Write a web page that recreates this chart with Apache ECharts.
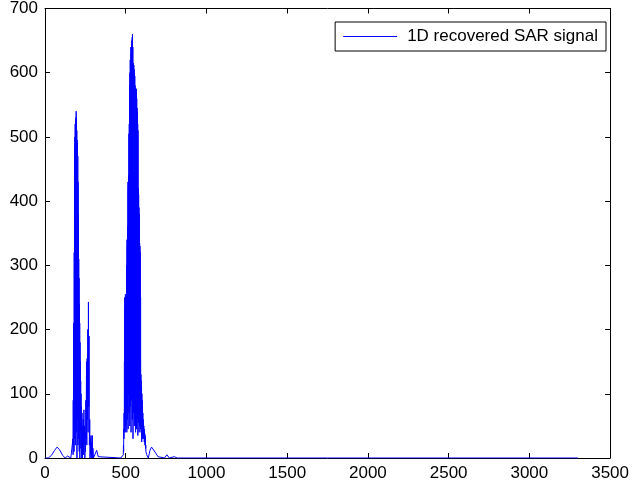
<!DOCTYPE html>
<html>
<head>
    <meta charset="utf-8">
    <title>1D recovered SAR signal</title>
    <script src="https://cdn.jsdelivr.net/npm/echarts@6/dist/echarts.min.js"></script>
</head>
<body style="margin:0;background:#fff;">
<div id="chart1" style="width:632px;height:489px;"></div>
<script type="text/javascript">
    // 图例名称与坐标轴刻度
    var seriesName = '1D recovered SAR signal';
    var xTicks = [0, 500, 1000, 1500, 2000, 2500, 3000, 3500];
    var yTicks = [0, 100, 200, 300, 400, 500, 600, 700];

    // 前段小起伏 [x, y]
    var leadPts = [[0,0],[20,0],[40,4],[60,12],[75,17],[90,13],[110,4],[125,0],[140,3],[150,5],[160,0],[171,0]];

    // 第一簇 x = 172 起，每个样本步长 1
    var c1Start = 172;
    var c1Vals = [0,30,5,90,20,210,40,160,10,320,60,480,30,500,110,520,20,505,70,530,
                  150,540,40,525,90,510,0,495,130,490,60,470,20,430,80,380,30,310,100,280,
                  10,240,60,210,0,180,40,150,70,120,15,100,50,80,0,60,20,70,35,50,0];

    // 第一簇之后的次峰与小尾巴 [x, y]
    var c1Tail = [[233,40],[235,10],[237,60],[239,5],[241,75],[243,20],[245,50],[247,0],[249,40],[251,10],
                  [253,90],[255,30],[257,150],[259,20],[261,155],[263,60],[265,200],[267,40],[269,243],[271,80],
                  [273,190],[275,20],[277,60],[279,0],[281,30],[283,5],[285,35],[287,0],[289,25],[291,10],
                  [293,35],[295,0],[297,15],[300,0],[310,0],[320,12],[330,2],[340,0],[470,0]];

    // 第二簇 x = 485 起，步长 1
    var c2Start = 485;
    var c2Vals = [5,20,10,45,30,70,40,150,60,250,90,235,40,255,110,210,50,245,130,230,
                  70,300,40,340,150,330,60,360,180,430,45,420,100,440,200,505,70,520,130,580,
                  50,600,170,620,80,610,120,640,40,630,200,645,90,650,160,655,60,660,110,640,
                  30,615,140,610,70,612,180,605,50,600,120,595,60,580,190,575,40,570,130,560,
                  80,575,45,560,170,545,60,540,110,520,35,510,150,420,55,410,120,390,40,380,
                  95,335,50,330,140,320,45,250,90,130,40,120,70,110,25,100,55,90,30,80,
                  50,70,35,60,45,55,30,50,35,45,25,40,30,38,20,35,25,30,15,20,10];

    // 第二簇之后的尾巴 [x, y]
    var c2Tail = [[630,5],[640,0],[650,12],[660,17],[670,14],[685,8],[700,2],[710,0],[740,0],[755,5],
                  [770,0],[800,2],[820,0],[3300,0]];

    var pts = leadPts.slice();
    c1Vals.forEach(function (v, i) { pts.push([c1Start + i, v]); });
    pts = pts.concat(c1Tail);
    c2Vals.forEach(function (v, i) { pts.push([c2Start + i, v]); });
    pts = pts.concat(c2Tail);

    var fontName = 'Liberation Sans, Arial, sans-serif';
    var labelStyle = {color: '#000', fontSize: 17, fontFamily: fontName, margin: 7,
                      formatter: function (v) { return String(v); }};
    var lineStyle = {show: true, onZero: false, lineStyle: {color: '#000', width: 1}};
    var tickIn = {inside: true, length: 5, lineStyle: {color: '#000'}};

    var myChart1 = echarts.init(document.getElementById('chart1'));
    myChart1.setOption({
        animation: false,
        backgroundColor: '#fff',
        grid: {left: 45, right: 20, top: 8, bottom: 31},
        legend: {
            data: [{name: seriesName, icon: 'rect', itemStyle: {color: '#0000ff'}}],
            right: 26, top: 22,
            backgroundColor: '#fff',
            borderColor: '#000', borderWidth: 1,
            padding: [6, 8, 6, 8],
            itemWidth: 54, itemHeight: 1,
            itemStyle: {color: '#0000ff'},
            textStyle: {color: '#000', fontSize: 17, fontFamily: fontName, padding: [0, 0, 0, 5]}
        },
        xAxis: [{
            type: 'value', min: xTicks[0], max: xTicks[xTicks.length - 1], interval: 500,
            axisLine: lineStyle, axisTick: tickIn, splitLine: {show: false},
            axisLabel: labelStyle
        }, {
            type: 'value', position: 'top', min: xTicks[0], max: xTicks[xTicks.length - 1], interval: 500,
            axisLine: lineStyle, axisTick: tickIn, splitLine: {show: false},
            axisLabel: {show: false}
        }],
        yAxis: [{
            type: 'value', min: yTicks[0], max: yTicks[yTicks.length - 1], interval: 100,
            axisLine: lineStyle, axisTick: tickIn, splitLine: {show: false},
            axisLabel: labelStyle
        }, {
            type: 'value', position: 'right', min: yTicks[0], max: yTicks[yTicks.length - 1], interval: 100,
            axisLine: lineStyle, axisTick: tickIn, splitLine: {show: false},
            axisLabel: {show: false}
        }],
        series: [{
            name: seriesName,
            type: 'line',
            data: pts,
            symbol: 'none',
            lineStyle: {color: '#0000ff', width: 1},
            itemStyle: {color: '#0000ff'}
        }]
    });
</script>
</body>
</html>
